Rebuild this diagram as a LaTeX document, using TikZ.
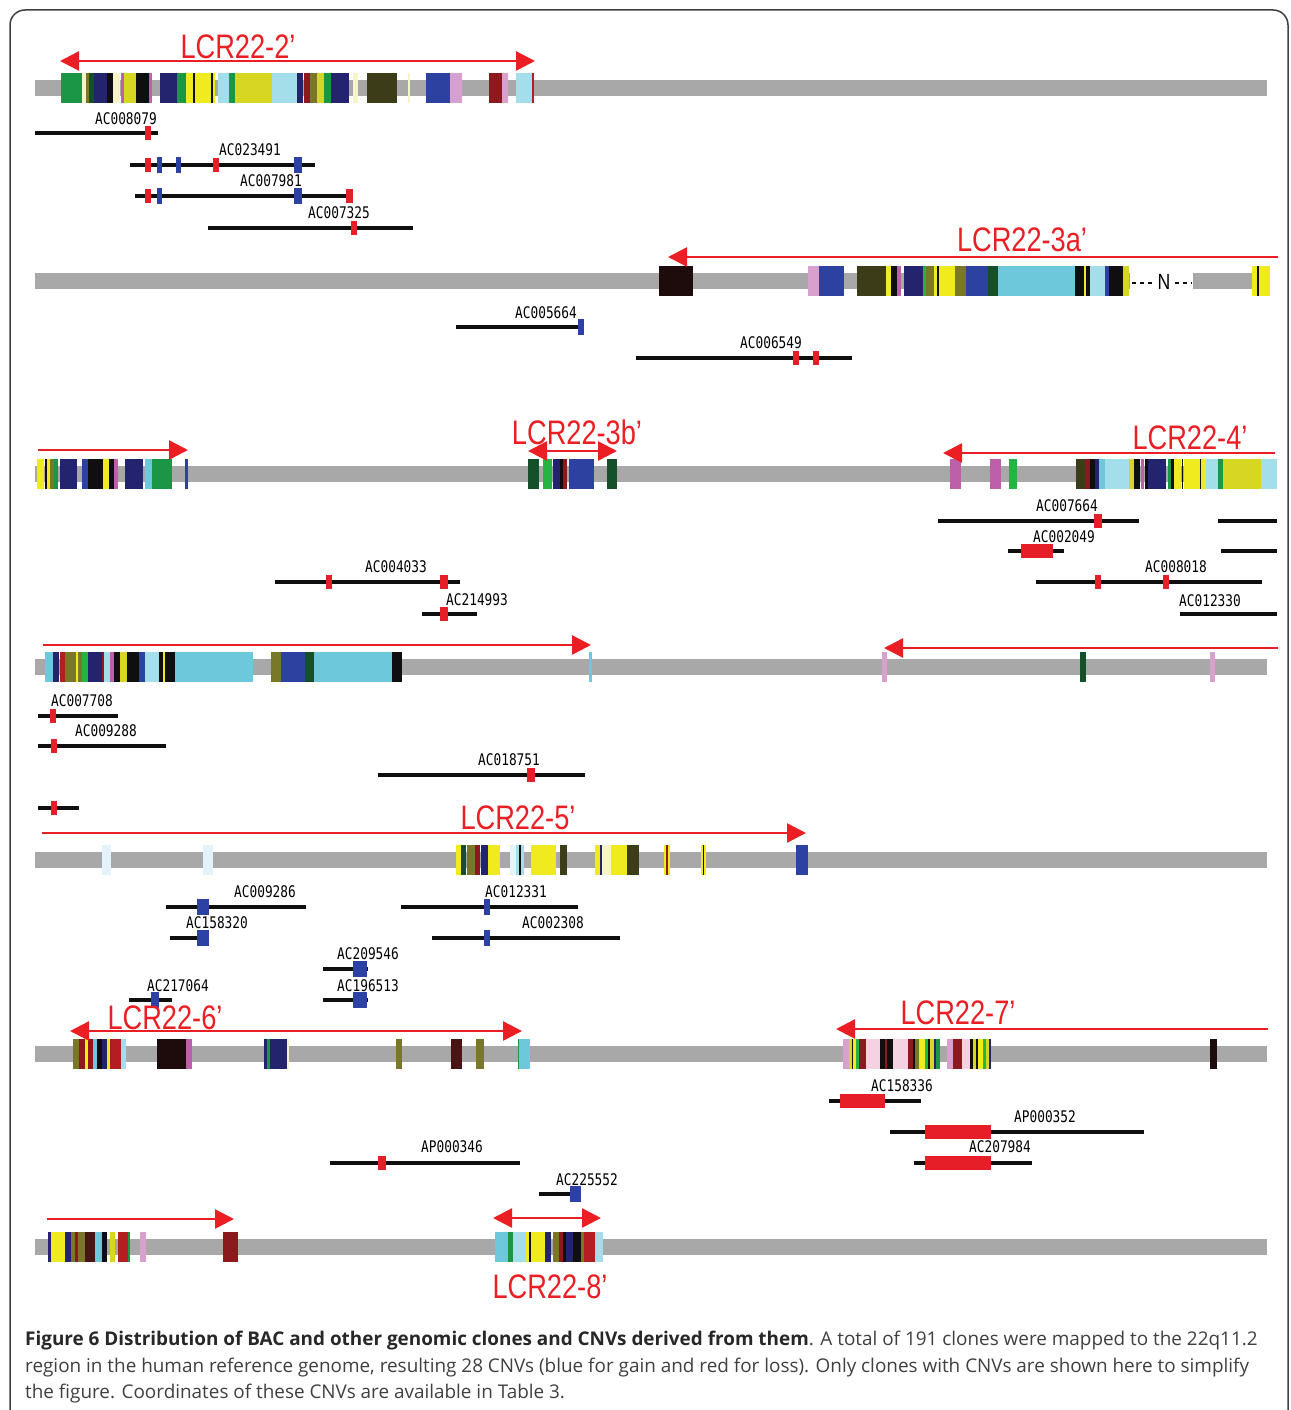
\documentclass[tikz,border=0pt]{standalone}
\usepackage{fontspec}
\usepackage{graphicx}
\usetikzlibrary{arrows.meta}
\newfontfamily\lcrfont{Liberation Sans}
\newfontfamily\clonefont{DejaVu Sans Mono}
\newfontfamily\capfont{Open Sans}
% palette of the segmental duplication blocks
\definecolor{chromgray}{RGB}{168,168,168}
\definecolor{green}{RGB}{26,150,70}
\definecolor{bgreen}{RGB}{35,180,65}
\definecolor{dgreen}{RGB}{22,80,42}
\definecolor{navy}{RGB}{35,35,110}
\definecolor{blue}{RGB}{45,65,160}
\definecolor{black}{RGB}{15,15,15}
\definecolor{yellow}{RGB}{240,235,30}
\definecolor{yelol}{RGB}{215,215,35}
\definecolor{olive}{RGB}{120,120,40}
\definecolor{dolive}{RGB}{60,60,25}
\definecolor{lblue}{RGB}{165,222,235}
\definecolor{cyan}{RGB}{110,200,220}
\definecolor{pink}{RGB}{215,160,205}
\definecolor{magenta}{RGB}{190,95,170}
\definecolor{dred}{RGB}{140,25,30}
\definecolor{red}{RGB}{180,30,35}
\definecolor{brown}{RGB}{30,12,12}
\definecolor{maroon}{RGB}{75,20,20}
\definecolor{pale}{RGB}{245,245,200}
\definecolor{palepink}{RGB}{245,210,225}
\definecolor{paleblue}{RGB}{228,242,250}
\definecolor{lossred}{RGB}{230,30,40}
\definecolor{gainblue}{RGB}{45,65,165}
\definecolor{lcrred}{RGB}{235,30,35}
\definecolor{captext}{RGB}{64,64,64}
\newcommand{\narrow}[1]{\scalebox{0.8}[1]{#1}}
% chromosome bar and its coloured blocks
\newcommand{\chrom}[1]{\fill[chromgray] (35,#1-8) rectangle (1267,#1+8);}
\newcommand{\blocks}[2]{\foreach \a/\b/\c in {#2} {\fill[\c] (\a,#1-15) rectangle (\b,#1+15);}}
% clone line, loss and gain marks
\newcommand{\clone}[3]{\draw[cloneline] (#2,#1) -- (#3,#1);}
\newcommand{\loss}[3]{\fill[lossred] (#2,#1-7) rectangle (#3,#1+7);}
\newcommand{\gain}[3]{\fill[gainblue] (#2,#1-8) rectangle (#3,#1+8);}
\begin{document}
\begin{tikzpicture}[x=1pt, y=-1pt,
  cloneline/.style={draw=black, line width=4pt},
  clonelab/.style={font=\clonefont\fontsize{16}{16}\selectfont, inner sep=0pt},
  lcrlab/.style={font=\lcrfont\fontsize{34}{34}\selectfont, text=lcrred, inner sep=0pt},
  lcr/.style={draw=lcrred, line width=2.5pt},
  lcrone/.style={lcr, -{Triangle[length=19pt,width=19pt]}},
  lcrtwo/.style={lcr, {Triangle[length=19pt,width=19pt]}-{Triangle[length=19pt,width=19pt]}},
  capline/.style={font=\capfont\fontsize{18.9}{22}\selectfont, text=captext, anchor=base west, inner sep=0pt}
]
\useasboundingbox (0,0) rectangle (1290,1410);
\fill[white] (0,0) rectangle (1290,1410);
\draw[line width=1.5pt, draw=black!80, rounded corners=15pt] (10,1440) -- (10,10) -- (1288,10) -- (1288,1440);

% row 1
\chrom{88}
\blocks{88}{61/82/green, 82/86/pale, 86/89/olive, 89/94/dgreen, 94/107/navy, 107/113/black,
  113/120/pale, 121/124/magenta, 124/136/yelol, 136/149/black, 149/152/magenta, 160/177/navy,
  177/186/green, 186/215/yellow, 193/195/black, 211/213/black, 218/229/lblue, 229/235/green,
  235/272/yelol, 272/297/lblue, 297/303/navy, 304/310/dred, 310/317/olive, 317/324/yelol,
  324/331/green, 331/349/navy, 353/358/pale, 367/397/dolive, 408/410/pale, 426/450/blue,
  450/462/pink, 489/502/dred, 502/508/pink, 516/532/lblue, 532/534/red}
\draw[lcrtwo] (60,61) -- (535,61);
\node[lcrlab] (lcr2) at (238,47) {\narrow{LCR22-2’}};
\clone{133}{35}{158} \loss{133}{145}{151}
\clone{165}{130}{315} \loss{165}{145}{151} \gain{165}{157}{162} \gain{165}{176}{181}
  \loss{165}{213}{219} \gain{165}{294}{302}
\clone{196}{135}{352} \loss{196}{145}{151} \gain{196}{157}{162} \gain{196}{294}{302} \loss{196}{346}{353}
\clone{228}{208}{413} \loss{228}{351}{357}
\node[clonelab] (ac008079) at (126,119) {\narrow{AC008079}};
\node[clonelab] (ac023491) at (250,150) {\narrow{AC023491}};
\node[clonelab] (ac007981) at (271,181) {\narrow{AC007981}};
\node[clonelab] (ac007325) at (339,213) {\narrow{AC007325}};

% row 2
\fill[chromgray] (35,273) rectangle (1130,289);
\fill[chromgray] (1193,273) rectangle (1267,289);
\draw[black, line width=2pt, dash pattern=on 4pt off 4pt] (1132,283) -- (1155,283);
\node[font=\lcrfont\fontsize{22}{22}\selectfont, inner sep=0pt] (ngap) at (1164,282) {\narrow{N}};
\draw[black, line width=2pt, dash pattern=on 4pt off 4pt] (ngap.east) ++(4,1) -- (1192,283);
\blocks{281}{659/693/brown, 808/819/pink, 819/844/blue, 857/886/dolive, 886/891/yellow,
  891/897/black, 897/901/magenta, 904/923/navy, 923/926/bgreen, 926/934/olive, 934/955/yellow,
  937/939/black, 955/966/olive, 966/988/blue, 988/998/dgreen, 998/1075/cyan, 1075/1084/black,
  1084/1086/yellow, 1086/1090/black, 1090/1105/lblue, 1105/1109/blue, 1109/1123/black,
  1123/1129/yelol, 1252/1270/yellow, 1257/1259/black}
\draw[lcrone] (1278,257) -- (668,257);
\node[lcrlab] (lcr3a) at (1022,240) {\narrow{LCR22-3a’}};
\clone{327}{456}{583} \gain{327}{578}{584}
\clone{358}{636}{852} \loss{358}{793}{799} \loss{358}{813}{819}
\node[clonelab] (ac005664) at (546,313) {\narrow{AC005664}};
\node[clonelab] (ac006549) at (771,343) {\narrow{AC006549}};

% row 3
\chrom{474}
\blocks{474}{37/44/yellow, 45/47/black, 47/50/yellow, 50/54/olive, 54/58/green, 60/77/navy,
  82/88/blue, 88/103/black, 103/109/yellow, 109/114/black, 114/118/magenta, 125/143/navy,
  145/152/cyan, 152/172/green, 185/188/blue,
  528/539/dgreen, 543/552/bgreen, 553/560/navy, 560/563/black, 563/567/dred, 569/594/blue,
  607/617/dgreen, 950/961/magenta, 990/1001/magenta, 1009/1017/bgreen,
  1076/1085/dolive, 1085/1090/dred, 1090/1095/black, 1095/1099/navy, 1099/1105/cyan,
  1105/1129/lblue, 1129/1134/yelol, 1134/1140/black, 1141/1144/magenta, 1145/1148/black,
  1148/1166/navy, 1168/1171/green, 1171/1174/black, 1174/1181/yellow, 1182/1183/black,
  1184/1206/yellow, 1200/1201/black, 1206/1218/lblue, 1218/1223/green, 1223/1261/yelol,
  1261/1277/lblue}
\draw[lcrone] (38,450) -- (188,450);
\draw[lcrtwo] (528,451) -- (617,451);
\node[lcrlab] (lcr3b) at (577,432) {\narrow{LCR22-3b’}};
\draw[lcrone] (1275,453) -- (943,453);
\node[lcrlab] (lcr4) at (1190,438) {\narrow{LCR22-4’}};
\clone{521}{938}{1139} \loss{521}{1094}{1102}
\clone{521}{1218}{1277}
\clone{551}{1008}{1064} \loss{551}{1021}{1053}
\clone{551}{1221}{1277}
\clone{582}{1036}{1262} \loss{582}{1095}{1101} \loss{582}{1163}{1169}
\clone{614}{1180}{1277}
\clone{582}{275}{460} \loss{582}{326}{332} \loss{582}{440}{448}
\clone{614}{422}{477} \loss{614}{440}{448}
\node[clonelab] (ac007664) at (1067,506) {\narrow{AC007664}};
\node[clonelab] (ac002049) at (1064,537) {\narrow{AC002049}};
\node[clonelab] (ac008018) at (1176,567) {\narrow{AC008018}};
\node[clonelab] (ac012330) at (1210,601) {\narrow{AC012330}};
\node[clonelab] (ac004033) at (396,567) {\narrow{AC004033}};
\node[clonelab] (ac214993) at (477,600) {\narrow{AC214993}};

% row 4
\chrom{667}
\blocks{667}{45/53/cyan, 53/59/navy, 60/65/red, 65/76/olive, 76/78/yellow, 78/82/olive,
  82/88/bgreen, 88/102/navy, 102/104/dred, 104/110/lblue, 110/114/magenta, 114/120/black,
  120/127/yelol, 127/139/black, 139/145/blue, 145/159/lblue, 159/163/black, 163/165/yellow,
  165/175/black, 175/253/cyan, 271/281/olive, 281/305/blue, 305/314/dgreen, 314/392/cyan,
  392/402/black, 589/592/cyan, 882/887/pink, 1080/1086/dgreen, 1210/1215/pink}
\draw[lcrone] (43,645) -- (591,645);
\draw[lcrone] (1278,648) -- (884,648);
\clone{716}{38}{118} \loss{716}{50}{56}
\clone{746}{38}{166} \loss{746}{51}{57}
\clone{775}{378}{585} \loss{775}{527}{535}
\clone{808}{38}{79} \loss{808}{51}{57}
\node[clonelab] (ac007708) at (82,701) {\narrow{AC007708}};
\node[clonelab] (ac009288) at (106,731) {\narrow{AC009288}};
\node[clonelab] (ac018751) at (509,760) {\narrow{AC018751}};

% row 5
\chrom{860}
\blocks{860}{102/111/paleblue, 203/213/paleblue, 456/461/yellow, 461/466/dgreen, 467/475/olive,
  475/480/dred, 481/488/navy, 488/500/yellow, 510/516/paleblue, 516/524/lblue, 519/521/black,
  531/556/yellow, 560/567/dolive, 595/600/yellow, 600/602/navy, 602/611/pale, 611/627/yellow,
  627/639/dolive, 664/670/yellow, 666/668/dred, 701/706/yellow, 703/704/black, 796/808/blue}
\draw[lcrone] (42,833) -- (806,833);
\node[lcrlab] (lcr5) at (518,818) {\narrow{LCR22-5’}};
\clone{907}{166}{306} \gain{907}{197}{209}
\clone{938}{170}{208} \gain{938}{197}{209}
\clone{907}{401}{578} \gain{907}{484}{490}
\clone{938}{432}{620} \gain{938}{484}{490}
\clone{969}{323}{368} \gain{969}{353}{367}
\clone{1000}{323}{368} \gain{1000}{353}{367}
\clone{1000}{129}{172} \gain{1000}{151}{159}
\node[clonelab] (ac009286) at (265,892) {\narrow{AC009286}};
\node[clonelab] (ac158320) at (217,923) {\narrow{AC158320}};
\node[clonelab] (ac012331) at (516,892) {\narrow{AC012331}};
\node[clonelab] (ac002308) at (553,923) {\narrow{AC002308}};
\node[clonelab] (ac209546) at (368,954) {\narrow{AC209546}};
\node[clonelab] (ac196513) at (368,986) {\narrow{AC196513}};
\node[clonelab] (ac217064) at (178,986) {\narrow{AC217064}};

% row 6
\chrom{1054}
\blocks{1054}{73/79/olive, 79/85/dred, 85/88/yellow, 88/93/dred, 93/97/cyan, 97/102/black,
  102/107/navy, 107/110/yellow, 110/121/red, 121/126/lblue, 157/186/brown, 186/192/magenta,
  264/287/navy, 267/270/green, 287/289/pale, 396/402/olive, 451/462/maroon, 476/484/olive,
  518/519/green, 519/530/cyan,
  843/849/pink, 849/852/yelol, 852/853/black, 853/856/yellow, 856/859/bgreen, 859/866/dred,
  866/880/palepink, 880/885/black, 885/887/dred, 887/893/black, 893/908/palepink, 908/913/dred,
  913/915/black, 915/919/olive, 919/925/yellow, 925/928/bgreen, 928/930/black, 930/934/yelol,
  934/936/navy, 936/940/green, 947/953/pink, 953/962/dred, 962/970/palepink, 970/973/black,
  973/976/yelol, 976/978/black, 978/983/yellow, 983/986/bgreen, 986/989/yelol, 989/991/navy,
  1210/1217/brown}
\draw[lcrtwo] (70,1031) -- (522,1031);
\node[lcrlab] (lcr6) at (165,1018) {\narrow{LCR22-6’}};
\draw[lcrone] (1268,1029) -- (836,1029);
\node[lcrlab] (lcr7) at (958,1013) {\narrow{LCR22-7’}};
\clone{1101}{829}{921} \loss{1101}{840}{885}
\clone{1132}{890}{1144} \loss{1132}{925}{991}
\clone{1163}{914}{1032} \loss{1163}{925}{991}
\clone{1163}{330}{520} \loss{1163}{378}{386}
\clone{1194}{539}{580} \gain{1194}{570}{581}
\node[clonelab] (ac158336) at (902,1086) {\narrow{AC158336}};
\node[clonelab] (ap000352) at (1045,1117) {\narrow{AP000352}};
\node[clonelab] (ac207984) at (1000,1147) {\narrow{AC207984}};
\node[clonelab] (ap000346) at (452,1147) {\narrow{AP000346}};
\node[clonelab] (ac225552) at (587,1180) {\narrow{AC225552}};

% row 7
\chrom{1247}
\blocks{1247}{48/51/navy, 51/65/yellow, 65/71/navy, 71/75/olive, 75/78/dred, 78/85/olive,
  85/95/maroon, 95/102/cyan, 102/107/black, 110/115/yelol, 118/128/red, 128/130/green,
  140/146/pink, 223/238/dred,
  495/508/cyan, 508/513/green, 513/526/lblue, 526/545/yellow, 529/531/black, 545/551/navy,
  553/559/olive, 559/563/dred, 563/566/black, 566/573/navy, 573/581/black, 581/584/olive,
  584/595/red, 595/603/lblue}
\draw[lcrone] (47,1219) -- (234,1219);
\draw[lcrtwo] (493,1218) -- (601,1218);
\node[lcrlab] (lcr8) at (550,1287) {\narrow{LCR22-8’}};

% caption
\node[capline] (cap1) at (25,1345) {{\bfseries\color{black!90}Figure 6 Distribution of BAC and other genomic clones and CNVs derived from them}. A total of 191 clones were mapped to the 22q11.2};
\node[capline] (cap2) at (25,1372) {region in the human reference genome, resulting 28 CNVs (blue for gain and red for loss). Only clones with CNVs are shown here to simplify};
\node[capline] (cap3) at (25,1398) {the figure. Coordinates of these CNVs are available in Table 3.};
\end{tikzpicture}
\end{document}
